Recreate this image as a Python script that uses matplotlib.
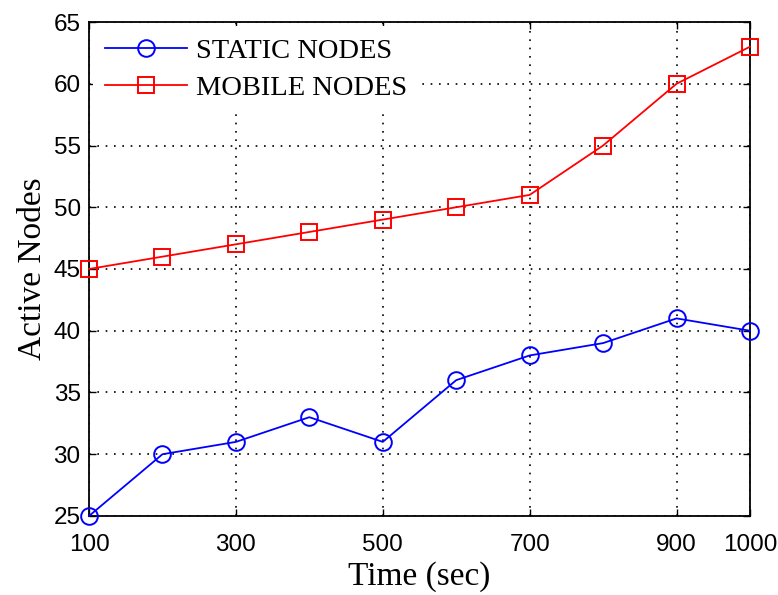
import matplotlib
matplotlib.use('Agg')
import matplotlib.pyplot as plt

# data
time_sec = [100, 200, 300, 400, 500, 600, 700, 800, 900, 1000]
static_nodes = [25, 30, 31, 33, 31, 36, 38, 39, 41, 40]
mobile_nodes = [45, 46, 47, 48, 49, 50, 51, 55, 60, 63]
x_ticks = [100, 300, 500, 700, 900, 1000]
y_ticks = [25, 30, 35, 40, 45, 50, 55, 60, 65]

serif = ['Liberation Serif', 'DejaVu Serif']
sans = ['Liberation Sans', 'DejaVu Sans']

fig = plt.figure(figsize=(7.78, 5.95), dpi=100)
ax = fig.add_axes([0.1144, 0.1328, 0.8496, 0.8302])

ax.plot(time_sec, static_nodes, color='blue', lw=1.3, marker='o',
        ms=12, mfc='none', mew=1.4, label='STATIC NODES', clip_on=False, zorder=3)
ax.plot(time_sec, mobile_nodes, color='red', lw=1.3, marker='s',
        ms=12, mfc='none', mew=1.4, label='MOBILE NODES', clip_on=False, zorder=3)

ax.set_xlim(100, 1000)
ax.set_ylim(25, 65)
ax.set_xticks(x_ticks)
ax.set_yticks(y_ticks)
ax.grid(True, color='black', linestyle=(0, (1, 4)), linewidth=1.2)
ax.tick_params(direction='in', top=True, right=True, length=5, width=1)
ax.tick_params(axis='x', pad=13)
ax.tick_params(axis='y', pad=6)
for lab in ax.get_xticklabels() + ax.get_yticklabels():
    lab.set_family(sans)
    lab.set_fontsize(17.5)
for sp in ax.spines.values():
    sp.set_linewidth(1.3)

ax.set_xlabel('Time (sec)', family=serif, fontsize=24, labelpad=4)
ax.set_ylabel('Active Nodes', family=serif, fontsize=24, labelpad=4)

leg = ax.legend(loc='upper left', prop={'family': serif, 'size': 20.5},
                frameon=True, facecolor='white', edgecolor='none', framealpha=1,
                fancybox=False, borderaxespad=0.15, handlelength=2.9,
                handletextpad=0.3, labelspacing=0.4)
leg.set_zorder(5)

fig.savefig('out.png', dpi=100)
